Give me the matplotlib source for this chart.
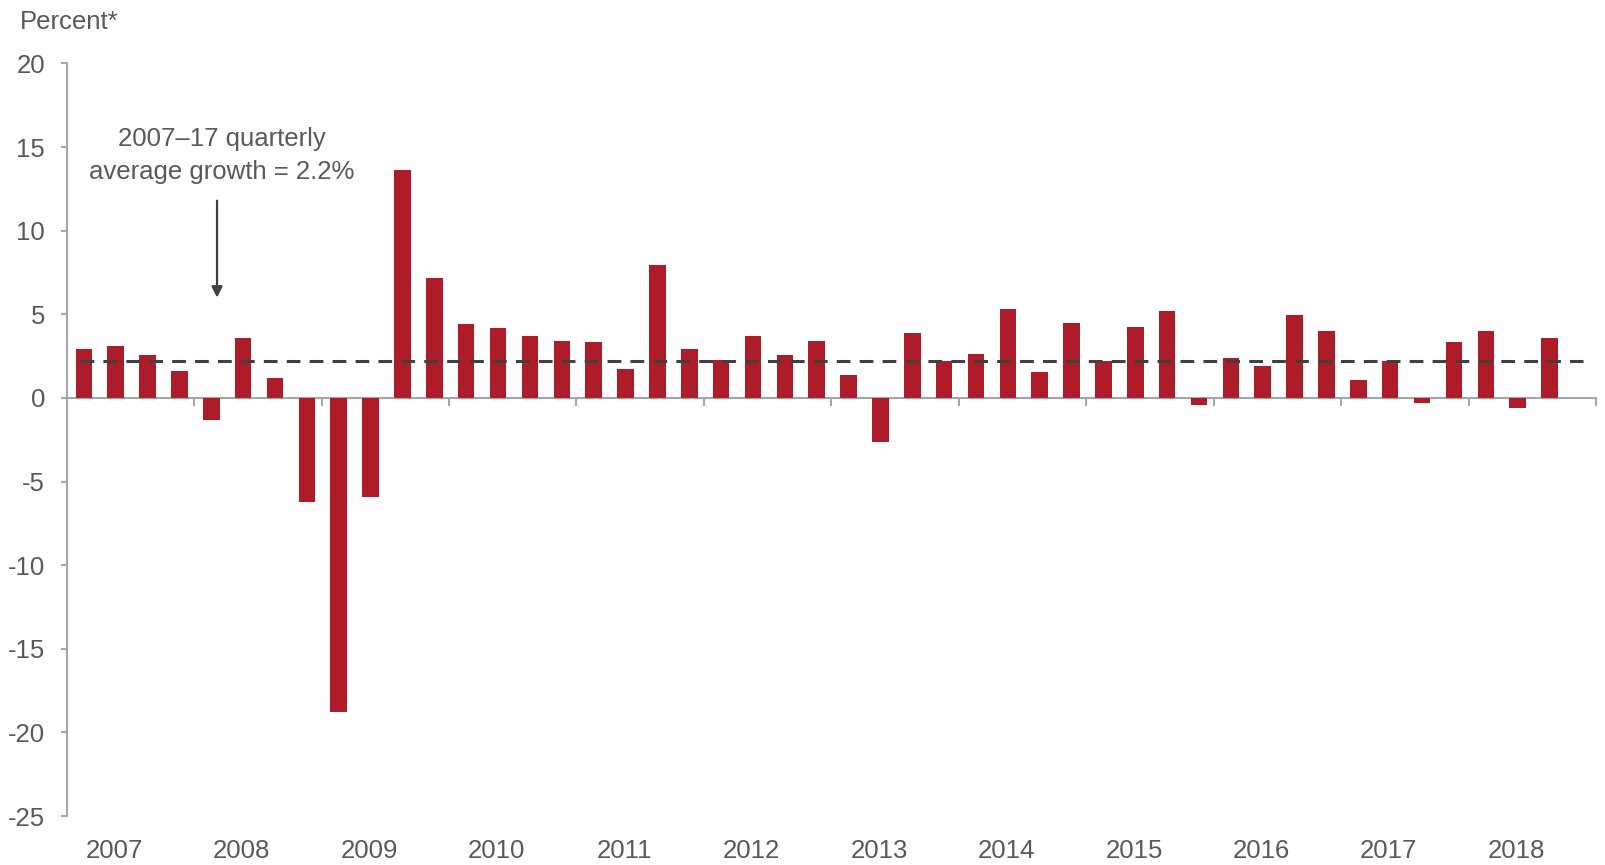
import matplotlib
matplotlib.use("Agg")
import matplotlib.pyplot as plt
import matplotlib.transforms as mtransforms
import numpy as np

plt.rcParams["font.family"] = ["Liberation Sans", "DejaVu Sans"]
plt.rcParams["axes.unicode_minus"] = False

# quarterly growth, 2007 Q1 .. 2018 Q3
years = ["2007", "2008", "2009", "2010", "2011", "2012",
         "2013", "2014", "2015", "2016", "2017", "2018"]
growth = [
    2.9, 3.1, 2.55, 1.6,       # 2007
    -1.3, 3.6, 1.2, -6.2,      # 2008
    -18.8, -5.95, 13.65, 7.15,  # 2009
    4.4, 4.2, 3.7, 3.4,        # 2010
    3.35, 1.75, 7.95, 2.9,     # 2011
    2.25, 3.7, 2.55, 3.4,      # 2012
    1.4, -2.65, 3.9, 2.2,      # 2013
    2.6, 5.3, 1.55, 4.5,       # 2014
    2.2, 4.25, 5.2, -0.4,      # 2015
    2.4, 1.9, 4.95, 4.0,       # 2016
    1.1, 2.2, -0.3, 3.35,      # 2017
    4.0, -0.6, 3.6,            # 2018
]
avg_growth = 2.2
avg_label = ["2007\u201317 quarterly", "average growth = 2.2%"]

bar_color = "#AF1C29"
text_color = "#595959"
axis_color = "#A6A6A6"
dash_color = "#404040"
fs = 18.5

fig = plt.figure(figsize=(16.06, 8.65), dpi=100)
ax = fig.add_axes([0.0415, 0.0566, 0.9523, 0.8700])

x = np.arange(len(growth)) + 0.5
ax.bar(x + 0.04, growth, width=0.52, color=bar_color, zorder=2)

# average line
ax.plot([0.42, 47.6], [avg_growth, avg_growth], color=dash_color, lw=2.2,
        dashes=(4.5, 3.0), zorder=3)

ax.set_xlim(0, 48)
ax.set_ylim(-25, 20)
ax.set_yticks(np.arange(-25, 21, 5))

for side in ["top", "right"]:
    ax.spines[side].set_visible(False)
ax.spines["bottom"].set_position(("data", 0))
for side in ["left", "bottom"]:
    ax.spines[side].set_color(axis_color)
    ax.spines[side].set_linewidth(1.5)
ax.spines["bottom"].set_zorder(1)

ax.set_xticks(np.arange(4, 49, 4))
ax.set_xticklabels([])
ax.tick_params(axis="x", direction="out", length=6, width=1.5, color=axis_color)
ax.tick_params(axis="y", direction="out", length=4.5, width=1.5, color=axis_color,
               labelsize=fs, labelcolor=text_color, pad=11)

# year labels below the plot, under the second quarter of each year
trans = mtransforms.blended_transform_factory(ax.transData, ax.transAxes)
for i, yr in enumerate(years):
    ax.annotate(yr, xy=(i * 4 + 1.5, 0), xycoords=trans, xytext=(0, -25.5),
                textcoords="offset points", ha="center", va="center",
                fontsize=fs, color=text_color)

fig.text(19.5 / 1606, 1 - 22 / 865, "Percent*", ha="left", va="center",
         fontsize=fs, color=text_color)

# annotation
ax.text(4.88, 15.5, avg_label[0], ha="center", va="center", fontsize=fs,
        color=text_color)
ax.text(4.88, 13.5, avg_label[1], ha="center", va="center", fontsize=fs,
        color=text_color)
ax.annotate("", xy=(4.72, 6.0), xytext=(4.72, 11.8),
            arrowprops=dict(arrowstyle="-|>", color=dash_color, lw=1.6,
                            mutation_scale=16, shrinkA=0, shrinkB=0))

fig.savefig("out.png", dpi=100)
